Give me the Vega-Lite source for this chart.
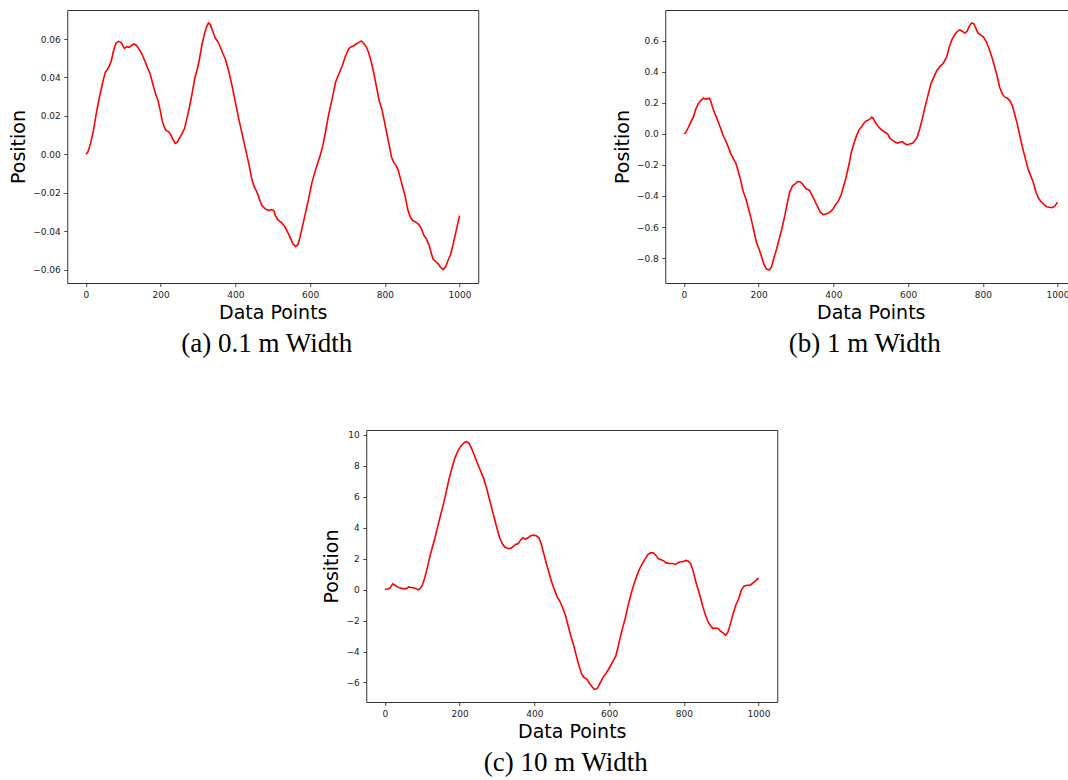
{
"$schema": "https://vega.github.io/schema/vega-lite/v6.json",
"padding": {"left": 9, "top": 9, "right": 0, "bottom": 0},
"background": "white",
"config": {
"view": {"stroke": "#333333", "strokeWidth": 1},
"axis": {"grid": false, "domain": false, "tickColor": "#222222", "tickSize": 3.5, "tickWidth": 0.8, "labelFont": "DejaVu Sans", "labelFontSize": 9, "labelColor": "#222222", "labelPadding": 3.5, "titleFont": "DejaVu Sans", "titleFontSize": 19, "titleFontWeight": "normal", "titleColor": "#000000", "titlePadding": 4},
"title": {"font": "Liberation Serif", "fontSize": 27, "fontWeight": "normal", "color": "#000000", "orient": "bottom", "anchor": "middle", "offset": 9, "dx": -6},
"line": {"color": "#ff0000", "strokeWidth": 1.6}
},
"datasets": {
"a": [{"x":0,"y":0},{"x":5,"y":0.001},{"x":12,"y":0.0054},{"x":20,"y":0.0123},{"x":29,"y":0.0227},{"x":38,"y":0.0314},{"x":47,"y":0.0392},{"x":52,"y":0.0427},{"x":61,"y":0.0453},{"x":68,"y":0.0487},{"x":74,"y":0.054},{"x":80,"y":0.0577},{"x":87,"y":0.0588},{"x":94,"y":0.0583},{"x":99,"y":0.0565},{"x":103,"y":0.0551},{"x":110,"y":0.056},{"x":116,"y":0.0557},{"x":121,"y":0.0565},{"x":128,"y":0.0574},{"x":134,"y":0.0569},{"x":141,"y":0.0551},{"x":150,"y":0.0522},{"x":159,"y":0.0479},{"x":166,"y":0.0444},{"x":172,"y":0.0418},{"x":179,"y":0.0366},{"x":186,"y":0.0317},{"x":193,"y":0.0279},{"x":199,"y":0.0227},{"x":204,"y":0.0175},{"x":210,"y":0.014},{"x":215,"y":0.0123},{"x":221,"y":0.0118},{"x":226,"y":0.0106},{"x":232,"y":0.008},{"x":239,"y":0.0057},{"x":244,"y":0.0062},{"x":250,"y":0.0083},{"x":257,"y":0.0106},{"x":264,"y":0.0135},{"x":270,"y":0.0184},{"x":277,"y":0.0245},{"x":284,"y":0.0314},{"x":291,"y":0.0392},{"x":297,"y":0.0435},{"x":303,"y":0.0487},{"x":310,"y":0.0565},{"x":317,"y":0.0626},{"x":324,"y":0.0669},{"x":328,"y":0.0683},{"x":333,"y":0.0675},{"x":339,"y":0.0643},{"x":346,"y":0.0605},{"x":354,"y":0.0583},{"x":360,"y":0.0557},{"x":366,"y":0.0527},{"x":373,"y":0.0496},{"x":382,"y":0.0435},{"x":391,"y":0.0357},{"x":400,"y":0.0271},{"x":409,"y":0.0184},{"x":418,"y":0.0106},{"x":427,"y":0.0028},{"x":436,"y":-0.005},{"x":443,"y":-0.012},{"x":449,"y":-0.0163},{"x":458,"y":-0.0198},{"x":464,"y":-0.0232},{"x":471,"y":-0.0267},{"x":480,"y":-0.0284},{"x":489,"y":-0.0293},{"x":496,"y":-0.0288},{"x":503,"y":-0.0293},{"x":507,"y":-0.0319},{"x":514,"y":-0.0342},{"x":523,"y":-0.0354},{"x":532,"y":-0.0376},{"x":539,"y":-0.0402},{"x":547,"y":-0.0435},{"x":554,"y":-0.0466},{"x":561,"y":-0.048},{"x":567,"y":-0.0472},{"x":572,"y":-0.044},{"x":578,"y":-0.0388},{"x":587,"y":-0.031},{"x":596,"y":-0.0232},{"x":605,"y":-0.0146},{"x":614,"y":-0.0085},{"x":621,"y":-0.0042},{"x":627,"y":-0.0007},{"x":634,"y":0.0045},{"x":641,"y":0.0114},{"x":650,"y":0.021},{"x":659,"y":0.0288},{"x":668,"y":0.0375},{"x":677,"y":0.0418},{"x":686,"y":0.0461},{"x":694,"y":0.0508},{"x":703,"y":0.0548},{"x":710,"y":0.056},{"x":717,"y":0.0565},{"x":723,"y":0.0574},{"x":730,"y":0.0581},{"x":737,"y":0.059},{"x":744,"y":0.0577},{"x":751,"y":0.0557},{"x":757,"y":0.0527},{"x":764,"y":0.0479},{"x":770,"y":0.0427},{"x":777,"y":0.0357},{"x":785,"y":0.0279},{"x":793,"y":0.0227},{"x":802,"y":0.014},{"x":811,"y":0.0054},{"x":818,"y":-0.0016},{"x":824,"y":-0.0042},{"x":830,"y":-0.0059},{"x":836,"y":-0.0085},{"x":842,"y":-0.0128},{"x":848,"y":-0.0172},{"x":855,"y":-0.0224},{"x":862,"y":-0.0293},{"x":869,"y":-0.0331},{"x":875,"y":-0.0345},{"x":884,"y":-0.0354},{"x":891,"y":-0.0366},{"x":898,"y":-0.0388},{"x":904,"y":-0.042},{"x":911,"y":-0.044},{"x":918,"y":-0.047},{"x":924,"y":-0.0513},{"x":929,"y":-0.0545},{"x":936,"y":-0.0558},{"x":943,"y":-0.057},{"x":949,"y":-0.0588},{"x":956,"y":-0.06},{"x":962,"y":-0.0588},{"x":969,"y":-0.0553},{"x":976,"y":-0.0522},{"x":982,"y":-0.0475},{"x":989,"y":-0.0414},{"x":1000,"y":-0.0319}],
"b": [{"x":0,"y":0},{"x":5,"y":0.009},{"x":12,"y":0.043},{"x":18,"y":0.075},{"x":25,"y":0.108},{"x":32,"y":0.161},{"x":38,"y":0.194},{"x":45,"y":0.215},{"x":52,"y":0.23},{"x":57,"y":0.226},{"x":62,"y":0.226},{"x":68,"y":0.23},{"x":72,"y":0.209},{"x":78,"y":0.161},{"x":85,"y":0.118},{"x":92,"y":0.075},{"x":99,"y":0.032},{"x":105,"y":-0.011},{"x":111,"y":-0.039},{"x":118,"y":-0.08},{"x":125,"y":-0.125},{"x":132,"y":-0.157},{"x":139,"y":-0.189},{"x":145,"y":-0.237},{"x":151,"y":-0.29},{"x":158,"y":-0.366},{"x":166,"y":-0.419},{"x":173,"y":-0.484},{"x":181,"y":-0.559},{"x":188,"y":-0.634},{"x":194,"y":-0.699},{"x":201,"y":-0.742},{"x":207,"y":-0.785},{"x":214,"y":-0.839},{"x":221,"y":-0.871},{"x":228,"y":-0.877},{"x":234,"y":-0.86},{"x":240,"y":-0.806},{"x":248,"y":-0.742},{"x":255,"y":-0.677},{"x":262,"y":-0.613},{"x":270,"y":-0.527},{"x":277,"y":-0.441},{"x":283,"y":-0.376},{"x":291,"y":-0.333},{"x":297,"y":-0.323},{"x":304,"y":-0.308},{"x":310,"y":-0.308},{"x":316,"y":-0.318},{"x":322,"y":-0.34},{"x":328,"y":-0.355},{"x":335,"y":-0.361},{"x":341,"y":-0.387},{"x":349,"y":-0.426},{"x":355,"y":-0.456},{"x":361,"y":-0.484},{"x":366,"y":-0.508},{"x":373,"y":-0.52},{"x":380,"y":-0.516},{"x":387,"y":-0.51},{"x":393,"y":-0.499},{"x":399,"y":-0.484},{"x":406,"y":-0.456},{"x":414,"y":-0.43},{"x":421,"y":-0.391},{"x":428,"y":-0.333},{"x":435,"y":-0.269},{"x":442,"y":-0.194},{"x":448,"y":-0.118},{"x":456,"y":-0.054},{"x":462,"y":-0.011},{"x":469,"y":0.028},{"x":476,"y":0.047},{"x":482,"y":0.071},{"x":489,"y":0.086},{"x":496,"y":0.092},{"x":502,"y":0.108},{"x":506,"y":0.103},{"x":512,"y":0.075},{"x":518,"y":0.054},{"x":524,"y":0.037},{"x":531,"y":0.022},{"x":538,"y":0.011},{"x":545,"y":0},{"x":551,"y":-0.026},{"x":557,"y":-0.039},{"x":563,"y":-0.049},{"x":571,"y":-0.06},{"x":578,"y":-0.054},{"x":584,"y":-0.049},{"x":590,"y":-0.06},{"x":597,"y":-0.071},{"x":604,"y":-0.065},{"x":612,"y":-0.06},{"x":618,"y":-0.043},{"x":624,"y":-0.022},{"x":631,"y":0.032},{"x":638,"y":0.097},{"x":645,"y":0.172},{"x":653,"y":0.247},{"x":661,"y":0.323},{"x":669,"y":0.366},{"x":676,"y":0.404},{"x":685,"y":0.434},{"x":694,"y":0.456},{"x":703,"y":0.495},{"x":710,"y":0.559},{"x":717,"y":0.606},{"x":725,"y":0.641},{"x":732,"y":0.662},{"x":738,"y":0.671},{"x":745,"y":0.662},{"x":752,"y":0.65},{"x":758,"y":0.662},{"x":763,"y":0.692},{"x":770,"y":0.716},{"x":776,"y":0.71},{"x":781,"y":0.682},{"x":787,"y":0.65},{"x":794,"y":0.639},{"x":802,"y":0.624},{"x":810,"y":0.591},{"x":817,"y":0.548},{"x":825,"y":0.49},{"x":832,"y":0.43},{"x":839,"y":0.366},{"x":845,"y":0.301},{"x":852,"y":0.258},{"x":859,"y":0.237},{"x":865,"y":0.232},{"x":872,"y":0.215},{"x":879,"y":0.183},{"x":885,"y":0.129},{"x":892,"y":0.065},{"x":899,"y":-0.011},{"x":906,"y":-0.086},{"x":914,"y":-0.161},{"x":921,"y":-0.226},{"x":928,"y":-0.269},{"x":935,"y":-0.312},{"x":942,"y":-0.376},{"x":949,"y":-0.415},{"x":956,"y":-0.437},{"x":964,"y":-0.456},{"x":971,"y":-0.469},{"x":978,"y":-0.473},{"x":985,"y":-0.475},{"x":992,"y":-0.467},{"x":1000,"y":-0.441}],
"c": [{"x":0,"y":0},{"x":8,"y":0.04},{"x":14,"y":0.11},{"x":21,"y":0.37},{"x":27,"y":0.28},{"x":34,"y":0.17},{"x":42,"y":0.09},{"x":48,"y":0.06},{"x":57,"y":0.06},{"x":64,"y":0.17},{"x":70,"y":0.13},{"x":77,"y":0.11},{"x":84,"y":0.06},{"x":89,"y":-0.02},{"x":94,"y":0.06},{"x":100,"y":0.28},{"x":106,"y":0.71},{"x":112,"y":1.25},{"x":119,"y":2.0},{"x":126,"y":2.65},{"x":134,"y":3.34},{"x":141,"y":4.05},{"x":149,"y":4.81},{"x":157,"y":5.56},{"x":164,"y":6.31},{"x":171,"y":7.07},{"x":179,"y":7.82},{"x":187,"y":8.47},{"x":195,"y":8.94},{"x":204,"y":9.29},{"x":213,"y":9.5},{"x":219,"y":9.55},{"x":225,"y":9.44},{"x":231,"y":9.16},{"x":238,"y":8.75},{"x":246,"y":8.25},{"x":255,"y":7.72},{"x":264,"y":7.18},{"x":271,"y":6.64},{"x":278,"y":5.99},{"x":286,"y":5.24},{"x":293,"y":4.59},{"x":300,"y":3.94},{"x":307,"y":3.34},{"x":314,"y":2.97},{"x":320,"y":2.76},{"x":329,"y":2.65},{"x":336,"y":2.65},{"x":342,"y":2.76},{"x":350,"y":2.91},{"x":357,"y":2.97},{"x":363,"y":3.19},{"x":369,"y":3.34},{"x":376,"y":3.25},{"x":383,"y":3.34},{"x":390,"y":3.47},{"x":398,"y":3.51},{"x":405,"y":3.47},{"x":412,"y":3.34},{"x":418,"y":2.97},{"x":425,"y":2.33},{"x":432,"y":1.68},{"x":439,"y":1.1},{"x":446,"y":0.5},{"x":454,"y":-0.04},{"x":461,"y":-0.47},{"x":469,"y":-0.8},{"x":476,"y":-1.19},{"x":483,"y":-1.66},{"x":490,"y":-2.31},{"x":497,"y":-2.95},{"x":505,"y":-3.6},{"x":512,"y":-4.25},{"x":519,"y":-4.89},{"x":526,"y":-5.43},{"x":532,"y":-5.65},{"x":541,"y":-5.8},{"x":548,"y":-6.08},{"x":555,"y":-6.29},{"x":561,"y":-6.44},{"x":568,"y":-6.4},{"x":575,"y":-6.08},{"x":584,"y":-5.65},{"x":593,"y":-5.37},{"x":602,"y":-5.0},{"x":610,"y":-4.63},{"x":618,"y":-4.29},{"x":624,"y":-3.71},{"x":630,"y":-3.06},{"x":637,"y":-2.41},{"x":644,"y":-1.77},{"x":651,"y":-1.01},{"x":659,"y":-0.26},{"x":667,"y":0.39},{"x":675,"y":0.93},{"x":682,"y":1.36},{"x":689,"y":1.68},{"x":697,"y":2.0},{"x":704,"y":2.28},{"x":711,"y":2.37},{"x":718,"y":2.37},{"x":725,"y":2.22},{"x":731,"y":2.0},{"x":738,"y":1.94},{"x":746,"y":1.85},{"x":753,"y":1.72},{"x":762,"y":1.68},{"x":771,"y":1.68},{"x":778,"y":1.62},{"x":785,"y":1.75},{"x":792,"y":1.79},{"x":798,"y":1.79},{"x":805,"y":1.88},{"x":811,"y":1.85},{"x":818,"y":1.68},{"x":825,"y":1.19},{"x":832,"y":0.5},{"x":838,"y":0.02},{"x":844,"y":-0.47},{"x":851,"y":-1.12},{"x":858,"y":-1.66},{"x":865,"y":-2.09},{"x":872,"y":-2.35},{"x":878,"y":-2.52},{"x":885,"y":-2.48},{"x":892,"y":-2.52},{"x":898,"y":-2.69},{"x":905,"y":-2.8},{"x":912,"y":-2.95},{"x":918,"y":-2.74},{"x":925,"y":-2.2},{"x":932,"y":-1.55},{"x":939,"y":-1.01},{"x":947,"y":-0.58},{"x":954,"y":-0.04},{"x":961,"y":0.22},{"x":969,"y":0.28},{"x":978,"y":0.28},{"x":985,"y":0.43},{"x":992,"y":0.56},{"x":1000,"y":0.75}]
},
"vconcat": [
{
"hconcat": [
{
"width": 411, "height": 273,
"title": {"text": "(a) 0.1 m Width"},
"data": {"name": "a"},
"mark": {"type": "line"},
"encoding": {
"x": {"field": "x", "type": "quantitative", "title": "Data Points", "scale": {"domain": [-50, 1050], "nice": false, "zero": false}, "axis": {"values": [0, 200, 400, 600, 800, 1000], "format": "d"}},
"y": {"field": "y", "type": "quantitative", "title": "Position", "scale": {"domain": [-0.067, 0.0751], "nice": false, "zero": false}, "axis": {"values": [-0.06, -0.04, -0.02, 0, 0.02, 0.04, 0.06], "format": ".2f"}}
}
},
{
"width": 411, "height": 273,
"title": {"text": "(b) 1 m Width"},
"data": {"name": "b"},
"mark": {"type": "line"},
"encoding": {
"x": {"field": "x", "type": "quantitative", "title": "Data Points", "scale": {"domain": [-50, 1050], "nice": false, "zero": false}, "axis": {"values": [0, 200, 400, 600, 800, 1000], "format": "d"}},
"y": {"field": "y", "type": "quantitative", "title": "Position", "scale": {"domain": [-0.961, 0.799], "nice": false, "zero": false}, "axis": {"values": [-0.8, -0.6, -0.4, -0.2, 0, 0.2, 0.4, 0.6], "format": ".1f"}}
}
}
],
"spacing": 187,
"bounds": "flush"
},
{
"width": 411, "height": 272,
"title": {"text": "(c) 10 m Width"},
"data": {"name": "c"},
"mark": {"type": "line"},
"encoding": {
"x": {"field": "x", "type": "quantitative", "title": "Data Points", "scale": {"domain": [-50, 1050], "nice": false, "zero": false}, "axis": {"values": [0, 200, 400, 600, 800, 1000], "format": "d"}},
"y": {"field": "y", "type": "quantitative", "title": "Position", "scale": {"domain": [-7.26, 10.3], "nice": false, "zero": false}, "axis": {"values": [-6, -4, -2, 0, 2, 4, 6, 8, 10], "format": "d"}}
}
}
],
"spacing": 71,
"center": true
}
